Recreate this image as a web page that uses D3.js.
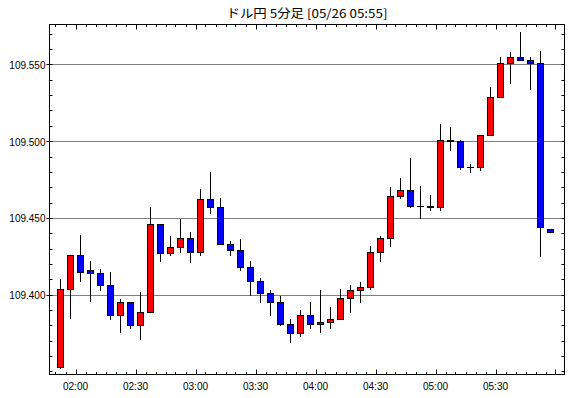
<!DOCTYPE html>
<html>
<head>
<meta charset="utf-8">
<script src="https://cdn.jsdelivr.net/npm/d3@7"></script>
<style>
  html, body { margin: 0; padding: 0; background: #fff; }
  svg { display: block; }
  text { font-family: "Liberation Sans", Arial, sans-serif; }
</style>
</head>
<body>
<div class="chart-wrapper"></div>
<script>
// 5-minute candles, 05/26 01:50 - 05:55
const times = [
  "01:50","01:55","02:00","02:05","02:10","02:15","02:20","02:25","02:30","02:35",
  "02:40","02:45","02:50","02:55","03:00","03:05","03:10","03:15","03:20","03:25",
  "03:30","03:35","03:40","03:45","03:50","03:55","04:00","04:05","04:10","04:15",
  "04:20","04:25","04:30","04:35","04:40","04:45","04:50","04:55","05:00","05:05",
  "05:10","05:15","05:20","05:25","05:30","05:35","05:40","05:45","05:50","05:55"
];
const opens = [
  109.353,109.404,109.426,109.416,109.414,109.406,109.387,109.395,109.380,109.389,
  109.446,109.427,109.431,109.437,109.428,109.462,109.457,109.433,109.429,109.418,
  109.409,109.401,109.395,109.381,109.375,109.387,109.381,109.382,109.384,109.398,
  109.403,109.405,109.428,109.437,109.464,109.468,109.458,109.457,109.457,109.501,
  109.500,109.483,109.483,109.504,109.529,109.551,109.555,109.553,109.551,109.443
];
const highs = [
  109.410,109.426,109.439,109.422,109.417,109.415,109.397,109.395,109.402,109.457,
  109.446,109.438,109.449,109.441,109.469,109.480,109.463,109.435,109.436,109.422,
  109.411,109.403,109.399,109.384,109.390,109.395,109.403,109.392,109.404,109.406,
  109.408,109.432,109.438,109.470,109.476,109.489,109.471,109.465,109.511,109.509,
  109.501,109.485,109.504,109.535,109.555,109.558,109.571,109.555,109.559,109.443
];
const lows = [
  109.352,109.385,109.409,109.396,109.403,109.384,109.376,109.378,109.371,109.389,
  109.422,109.426,109.428,109.421,109.426,109.453,109.433,109.426,109.416,109.400,
  109.395,109.387,109.380,109.369,109.373,109.378,109.376,109.378,109.384,109.389,
  109.395,109.404,109.422,109.432,109.463,109.457,109.450,109.455,109.455,109.494,
  109.482,109.480,109.481,109.504,109.529,109.538,109.553,109.534,109.425,109.441
];
const closes = [
  109.404,109.426,109.415,109.414,109.406,109.387,109.395,109.380,109.389,109.446,
  109.427,109.431,109.437,109.428,109.462,109.457,109.433,109.429,109.418,109.409,
  109.401,109.395,109.381,109.375,109.387,109.381,109.382,109.384,109.398,109.403,
  109.405,109.428,109.437,109.464,109.468,109.458,109.458,109.458,109.501,109.500,
  109.483,109.483,109.504,109.529,109.551,109.555,109.553,109.551,109.444,109.441
];
const yLabels = [109.400, 109.450, 109.500, 109.550];
const title = "ドル円 5分足 [05/26 05:55]";

const width = 570, height = 398;
const plotL = 49.5, plotR = 564.5, plotT = 24.5, plotB = 374.5;

const parse = d3.timeParse("%Y-%m-%d %H:%M");
const day = "2021-05-26 ";
const candles = times.map((t, i) => ({
  t: parse(day + t), o: opens[i], h: highs[i], l: lows[i], c: closes[i]
}));

const x = d3.scaleTime()
  .domain([parse(day + "01:47"), parse(day + "06:05")])
  .range([plotL, plotR + 1]);
const y = d3.scaleLinear()
  .domain([109.348, 109.576])
  .range([plotB, plotT]);

const snap = v => Math.round(v) + 0.5;
const mid = d => new Date(d.t.getTime() + 150000);   // centre of the 5 min slot

const svg = d3.select(".chart-wrapper").append("svg")
  .attr("width", width).attr("height", height);

// title
svg.append("text")
  .attr("x", (plotL + plotR) / 2).attr("y", 17.5)
  .attr("text-anchor", "middle")
  .attr("textLength", 161).attr("lengthAdjust", "spacingAndGlyphs")
  .style("font-family", "'Noto Sans CJK JP', sans-serif")
  .style("font-size", "12px")
  .text(title);

// dotted grid
svg.append("g").selectAll("line")
  .data(yLabels).join("line")
  .attr("x1", plotL + 1).attr("x2", plotR)
  .attr("y1", d => snap(y(d))).attr("y2", d => snap(y(d)))
  .attr("stroke", "#000").attr("stroke-dasharray", "1,1");

// y ticks: minor every 0.01 inward both sides, major outward on left
const yMinor = d3.range(109.35, 109.575, 0.01);
const ticks = svg.append("g").attr("stroke", "#000");
yMinor.forEach(v => {
  const yy = snap(y(v));
  ticks.append("line").attr("x1", plotL).attr("x2", plotL + 3).attr("y1", yy).attr("y2", yy);
  ticks.append("line").attr("x1", plotR - 3).attr("x2", plotR).attr("y1", yy).attr("y2", yy);
});
yLabels.forEach(v => {
  const yy = snap(y(v));
  ticks.append("line").attr("x1", plotL - 3).attr("x2", plotL).attr("y1", yy).attr("y2", yy);
});

// x ticks: every 5 min, longer on the half hour
const xTicks = d3.timeMinute.every(5).range(parse(day + "01:50"), parse(day + "06:05"));
xTicks.forEach(t => {
  const xx = snap(x(t));
  const major = t.getMinutes() % 30 === 0;
  ticks.append("line").attr("x1", xx).attr("x2", xx)
    .attr("y1", plotT).attr("y2", plotT + (major ? 5 : 2.5));
  ticks.append("line").attr("x1", xx).attr("x2", xx)
    .attr("y1", plotB).attr("y2", plotB - (major ? 5 : 2.5));
});

// y labels
svg.append("g").selectAll("text")
  .data(yLabels).join("text")
  .attr("x", plotL - 4).attr("y", d => y(d) + 4.5)
  .attr("text-anchor", "end")
  .style("font-size", "10px")
  .text(d => d.toFixed(3));

// x labels
const fmt = d3.timeFormat("%H:%M");
svg.append("g").selectAll("text")
  .data(xTicks.filter(t => t.getMinutes() % 30 === 0 && t <= parse(day + "05:30")))
  .join("text")
  .attr("x", d => x(d)).attr("y", 390)
  .attr("text-anchor", "middle")
  .style("font-size", "10px")
  .text(d => fmt(d));

// candles
const g = svg.append("g");
candles.forEach(d => {
  const cx = Math.floor(x(mid(d)));
  g.append("line")
    .attr("x1", cx + 0.5).attr("x2", cx + 0.5)
    .attr("y1", Math.round(y(d.h))).attr("y2", Math.round(y(d.l)) + 1)
    .attr("stroke", "#000");
  const yo = Math.round(y(d.o)), yc = Math.round(y(d.c));
  if (yo === yc) {
    g.append("line")
      .attr("x1", cx - 3).attr("x2", cx + 4)
      .attr("y1", yo + 0.5).attr("y2", yo + 0.5)
      .attr("stroke", "#000");
  } else {
    g.append("rect")
      .attr("x", cx - 2.5).attr("width", 6)
      .attr("y", Math.min(yo, yc) + 0.5)
      .attr("height", Math.abs(yo - yc))
      .attr("fill", d.c > d.o ? "#ff0000" : "#0000ff")
      .attr("stroke", "#000");
  }
});

// frame
svg.append("rect")
  .attr("x", plotL).attr("y", plotT)
  .attr("width", plotR - plotL).attr("height", plotB - plotT)
  .attr("fill", "none").attr("stroke", "#000");
</script>
</body>
</html>
